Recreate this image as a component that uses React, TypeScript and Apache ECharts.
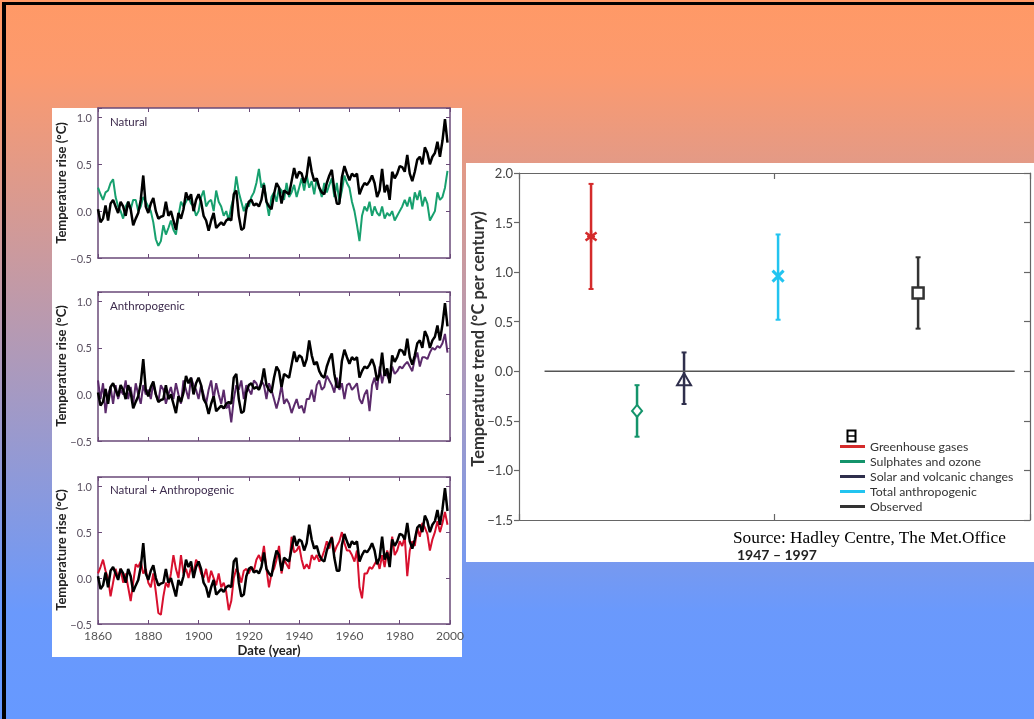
import React, { useEffect, useRef } from "react";
import * as echarts from "echarts";

const START_YEAR = 1860;
const yearTicks = [1860, 1880, 1900, 1920, 1940, 1960, 1980, 2000];

const observed = [
  0.02, -0.12, -0.08, 0.06, -0.1, 0.08, 0.12, 0.05, -0.02, 0.1,
  0.05, -0.05, 0.1, 0.02, -0.15, -0.08, -0.02, 0.12, 0.38, 0.05,
  -0.02, 0.08, 0.14, 0.0, -0.08, -0.06, -0.05, 0.1, -0.05, 0.0,
  -0.1, -0.2, -0.02, -0.08, 0.02, 0.2, 0.12, 0.18, 0.0, 0.12,
  0.18, 0.1, -0.05, -0.1, -0.21, -0.1, -0.02, -0.18, -0.15, -0.12,
  -0.15, -0.1, -0.08, -0.1, 0.18, 0.22, -0.05, -0.2, -0.18, 0.02,
  0.1, 0.12, 0.06, 0.08, 0.05, 0.12, 0.28, 0.1, 0.05, 0.02,
  0.18, 0.3, 0.25, 0.08, 0.22, 0.2, 0.18, 0.32, 0.46, 0.35,
  0.42, 0.4, 0.3, 0.38, 0.58, 0.42, 0.32, 0.35, 0.25, 0.2,
  0.18, 0.3, 0.38, 0.44, 0.22, 0.08, 0.08, 0.36, 0.48, 0.4,
  0.33, 0.4, 0.37, 0.4, 0.18, 0.25, 0.3, 0.28, 0.32, 0.38,
  0.3, 0.15, 0.22, 0.45, 0.2, 0.28, 0.12, 0.42, 0.35, 0.4,
  0.48, 0.47, 0.42, 0.6, 0.4, 0.32, 0.42, 0.55, 0.58, 0.5,
  0.68, 0.62, 0.5, 0.58, 0.62, 0.74, 0.58, 0.75, 0.98, 0.73,
];

const natural = [
  0.25, 0.18, 0.12, 0.2, 0.22, 0.3, 0.34, 0.15, 0.05, 0.0,
  -0.08, 0.05, 0.1, 0.02, 0.12, 0.12, 0.0, 0.05, 0.15, 0.1,
  0.05, 0.0, -0.12, -0.3, -0.37, -0.32, -0.15, -0.25, -0.18, -0.1,
  -0.2, -0.25, -0.05, 0.1, 0.05, 0.1, 0.15, 0.08, 0.05, -0.05,
  0.0, 0.15, 0.22, 0.05, 0.1, 0.12, 0.0, 0.22, 0.1, 0.05,
  -0.05, 0.0, -0.1, 0.05, 0.15, 0.37, 0.2, 0.1, 0.0, 0.08,
  0.05, 0.15, 0.2, 0.3, 0.45, 0.25, 0.3, 0.1, -0.05, 0.15,
  0.2, 0.1, 0.25, 0.22, 0.12, 0.3, 0.15, 0.2, 0.28, 0.15,
  0.25, 0.35, 0.22, 0.38, 0.25, 0.32, 0.18, 0.35, 0.25, 0.15,
  0.3, 0.2, 0.28, 0.35, 0.15, 0.3, 0.1, 0.22, 0.38, 0.3,
  0.25, 0.1, 0.0, -0.15, -0.32, -0.05, 0.05, 0.0, 0.1, -0.05,
  0.05, -0.02, -0.05, 0.05, -0.08, -0.02, -0.05, 0.0, -0.1, -0.05,
  0.0, 0.05, 0.12, 0.05, 0.15, 0.02, 0.2, 0.12, 0.22, 0.05,
  0.15, 0.08, -0.1, -0.05, 0.0, 0.2, 0.12, 0.15, 0.25, 0.43,
];

const anthropogenic = [
  0.15, -0.05, 0.12, -0.2, 0.0, 0.08, -0.1, 0.1, -0.05, 0.05,
  0.0, 0.15, -0.05, 0.08, -0.1, 0.12, 0.0, -0.1, 0.1, 0.0,
  0.05, -0.05, 0.12, 0.0, -0.08, 0.1, 0.05, -0.1, 0.0, 0.08,
  -0.05, 0.12, 0.0, -0.1, 0.15, 0.05, -0.05, 0.18, 0.1, 0.05,
  -0.05, 0.1, 0.0, -0.1, 0.05, 0.15, -0.05, 0.12, 0.0, -0.1,
  0.05, -0.15, -0.1, -0.3, -0.05, 0.1, 0.05, 0.15, -0.05, 0.1,
  0.05, 0.0, 0.15, 0.12, 0.05, 0.15, 0.1, -0.05, 0.12, 0.05,
  -0.05, -0.15, -0.05, 0.1, -0.1, -0.05, -0.1, -0.2, -0.12, -0.05,
  -0.15, -0.12, -0.2, -0.05, -0.05, 0.05, -0.08, 0.1, 0.15, 0.05,
  0.08, 0.2, 0.15, 0.1, 0.02, 0.18, 0.05, 0.12, -0.05, 0.1,
  0.12, 0.05, 0.08, 0.12, -0.05, -0.1, 0.0, 0.05, -0.18, 0.1,
  0.18, 0.05, 0.3, 0.12, 0.25, 0.2, 0.15, 0.3, 0.22, 0.25,
  0.3, 0.28, 0.32, 0.35, 0.3, 0.25, 0.38, 0.45, 0.3, 0.4,
  0.4, 0.38, 0.45, 0.5, 0.48, 0.52, 0.5, 0.55, 0.65, 0.45,
];

const combined = [
  0.05, 0.12, 0.2, 0.08, 0.0, -0.2, -0.05, 0.1, 0.0, 0.1,
  -0.05, 0.05, -0.1, -0.25, -0.05, 0.15, 0.12, 0.18, 0.05, 0.1,
  -0.05, -0.1, 0.05, -0.15, -0.38, -0.4, -0.2, -0.05, -0.1, 0.05,
  0.25, 0.1, 0.0, 0.25, 0.05, 0.1, 0.0, 0.12, 0.05, 0.2,
  0.15, 0.05, 0.0, 0.1, -0.05, 0.08, 0.0, -0.08, 0.05, -0.1,
  -0.05, -0.15, -0.35, -0.25, 0.0, 0.1, 0.05, -0.05, 0.08, 0.1,
  0.05, 0.12, 0.08, 0.2, 0.25, 0.18, 0.35, 0.1, -0.1, 0.05,
  0.1, 0.2, 0.35, 0.05, 0.2, 0.15, 0.1, 0.45, 0.28, 0.3,
  0.35, 0.2, 0.1, 0.15, 0.1, 0.25, 0.2, 0.25, 0.18, 0.22,
  0.3, 0.4, 0.32, 0.45, 0.28, 0.35, 0.4, 0.5, 0.38, 0.3,
  0.3, 0.25, 0.18, 0.3, -0.1, -0.22, 0.05, 0.05, 0.12, 0.1,
  0.15, 0.2, 0.1, 0.25, 0.12, 0.3, 0.2, 0.45, 0.25, 0.3,
  0.4, 0.35, 0.45, 0.02, 0.3, 0.4, 0.35, 0.55, 0.45, 0.6,
  0.55, 0.48, 0.3, 0.42, 0.5, 0.62, 0.5, 0.6, 0.72, 0.58,
];

const panelTitles = ["Natural", "Anthropogenic", "Natural + Anthropogenic"];

const trendNames = [
  "Greenhouse gases",
  "Sulphates and ozone",
  "Solar and volcanic changes",
  "Total anthropogenic",
  "Observed",
];
const trendSlot = [0.141, 0.231, 0.323, 0.507, 0.781];
const trendMid = [1.36, -0.4, -0.09, 0.96, 0.79];
const trendLow = [0.83, -0.66, -0.33, 0.52, 0.43];
const trendHigh = [1.89, -0.14, 0.19, 1.38, 1.15];

const trendColors = ["#d42b2b", "#14946b", "#2f2f4c", "#22c4f0", "#333333"];
const trendMarkers = ["asterisk", "diamond", "triangle", "cross", "square"];
const modelColors = ["#17a06e", "#5b2a6b", "#d8102e"];
const modelSeries = [natural, anthropogenic, combined];

const FONT = "Lato, 'Open Sans', sans-serif";
const FRAME = "#6a4a78";

const fmt = (v: number) => {
  const s = Math.abs(v).toFixed(1);
  return v < -1e-9 ? "\u2212" + s : s;
};

const toPairs = (arr: number[]) => arr.map((v, i) => [START_YEAR + i, v]);

function renderTrend(marker: string, color: string) {
  return (params: any, api: any) => {
    const x = api.value(0);
    const c = api.coord([x, api.value(1)]);
    const lo = api.coord([x, api.value(2)]);
    const hi = api.coord([x, api.value(3)]);
    const children: any[] = [
      { type: "line", shape: { x1: lo[0], y1: lo[1], x2: hi[0], y2: hi[1] }, style: { stroke: color, lineWidth: 2.5 } },
      { type: "line", shape: { x1: lo[0] - 2.5, y1: lo[1], x2: lo[0] + 2.5, y2: lo[1] }, style: { stroke: color, lineWidth: 2 } },
      { type: "line", shape: { x1: hi[0] - 2.5, y1: hi[1], x2: hi[0] + 2.5, y2: hi[1] }, style: { stroke: color, lineWidth: 2 } },
    ];
    const cx = c[0];
    const cy = c[1];
    if (marker === "asterisk") {
      children.push(
        { type: "line", shape: { x1: cx, y1: cy - 6, x2: cx, y2: cy + 6 }, style: { stroke: color, lineWidth: 2.5 } },
        { type: "line", shape: { x1: cx - 5.5, y1: cy - 4, x2: cx + 5.5, y2: cy + 4 }, style: { stroke: color, lineWidth: 2.5 } },
        { type: "line", shape: { x1: cx - 5.5, y1: cy + 4, x2: cx + 5.5, y2: cy - 4 }, style: { stroke: color, lineWidth: 2.5 } },
        { type: "line", shape: { x1: cx - 4, y1: cy, x2: cx + 4, y2: cy }, style: { stroke: color, lineWidth: 2 } }
      );
    } else if (marker === "diamond") {
      children.push({
        type: "polygon",
        shape: { points: [[cx, cy - 6], [cx + 5, cy], [cx, cy + 6], [cx - 5, cy]] },
        style: { fill: "#ffffff", stroke: color, lineWidth: 2 },
      });
    } else if (marker === "triangle") {
      children.push({
        type: "polygon",
        shape: { points: [[cx, cy - 7], [cx + 7, cy + 5], [cx - 7, cy + 5]] },
        style: { fill: "none", stroke: color, lineWidth: 2 },
      });
    } else if (marker === "cross") {
      children.push(
        { type: "line", shape: { x1: cx - 5.5, y1: cy - 5.5, x2: cx + 5.5, y2: cy + 5.5 }, style: { stroke: color, lineWidth: 3 } },
        { type: "line", shape: { x1: cx - 5.5, y1: cy + 5.5, x2: cx + 5.5, y2: cy - 5.5 }, style: { stroke: color, lineWidth: 3 } }
      );
    } else {
      children.push({
        type: "rect",
        shape: { x: cx - 5.5, y: cy - 5.5, width: 11, height: 11 },
        style: { fill: "#ffffff", stroke: color, lineWidth: 2.5 },
      });
    }
    return { type: "group", children };
  };
}

export default function App() {
  const ref = useRef<HTMLDivElement>(null);

  useEffect(() => {
    if (!ref.current) return;
    const chart = echarts.init(ref.current, undefined, { renderer: "svg" });

    const leftGrids = [
      { left: 98, top: 108, width: 352, height: 150 },
      { left: 98, top: 292, width: 352, height: 149 },
      { left: 98, top: 477, width: 352, height: 147 },
    ];
    const rightGrid = { left: 519, top: 173, width: 511, height: 347 };

    const xAxes: any[] = [];
    const yAxes: any[] = [];
    leftGrids.forEach((g, i) => {
      const common = {
        type: "value",
        gridIndex: i,
        min: yearTicks[0],
        max: yearTicks[yearTicks.length - 1],
        interval: 20,
        splitLine: { show: false },
        axisLine: { show: true, onZero: false, lineStyle: { color: FRAME, width: 1.5 } },
        axisTick: { show: true, inside: true, length: 4, lineStyle: { color: FRAME } },
      };
      xAxes.push({
        ...common,
        position: "bottom",
        axisLabel: {
          show: i === 2,
          color: "#555",
          fontSize: 12,
          fontFamily: FONT,
          margin: 5,
          formatter: (v: number) => String(v),
        },
      });
      xAxes.push({ ...common, position: "top", axisLabel: { show: false } });
      const ycommon = {
        type: "value",
        gridIndex: i,
        min: -0.5,
        max: 1.1,
        interval: 0.5,
        splitLine: { show: false },
        axisLine: { show: true, onZero: false, lineStyle: { color: FRAME, width: 1.5 } },
        axisTick: { show: true, inside: true, length: 4, lineStyle: { color: FRAME } },
      };
      yAxes.push({
        ...ycommon,
        position: "left",
        axisLabel: {
          color: "#5a5060",
          fontSize: 11,
          fontFamily: FONT,
          margin: 6,
          formatter: (v: number) => (Math.abs(v * 2 - Math.round(v * 2)) < 1e-6 ? fmt(v) : ""),
        },
      });
      yAxes.push({ ...ycommon, position: "right", axisLabel: { show: false } });
    });

    const rx = {
      type: "value",
      gridIndex: 3,
      min: 0,
      max: 1,
      interval: 0.5,
      splitLine: { show: false },
      axisLine: { show: true, onZero: false, lineStyle: { color: "#666", width: 1.2 } },
      axisTick: { show: true, inside: true, length: 6, lineStyle: { color: "#666", width: 1.2 } },
      axisLabel: { show: false },
    };
    xAxes.push({ ...rx, position: "bottom" });
    xAxes.push({ ...rx, position: "top" });
    const ry = {
      type: "value",
      gridIndex: 3,
      min: -1.5,
      max: 2.0,
      interval: 0.5,
      splitLine: { show: false },
      axisLine: { show: true, onZero: false, lineStyle: { color: "#666", width: 1.2 } },
    };
    yAxes.push({
      ...ry,
      position: "left",
      axisTick: { show: true, inside: false, length: 5, lineStyle: { color: "#666", width: 1.2 } },
      axisLabel: { color: "#444", fontSize: 13, fontFamily: FONT, margin: 6, formatter: (v: number) => fmt(v) },
    });
    yAxes.push({
      ...ry,
      position: "right",
      axisTick: { show: true, inside: true, length: 6, lineStyle: { color: "#666", width: 1.2 } },
      axisLabel: { show: false },
    });

    const series: any[] = [];
    modelSeries.forEach((arr, i) => {
      series.push({
        type: "line",
        name: panelTitles[i],
        xAxisIndex: i * 2,
        yAxisIndex: i * 2,
        data: toPairs(arr),
        showSymbol: false,
        symbol: "none",
        lineStyle: { color: modelColors[i], width: 2 },
        silent: true,
      });
      series.push({
        type: "line",
        name: "Observed " + i,
        xAxisIndex: i * 2,
        yAxisIndex: i * 2,
        data: toPairs(observed),
        showSymbol: false,
        symbol: "none",
        lineStyle: { color: "#000000", width: 2.5 },
        silent: true,
      });
    });

    series.push({
      type: "line",
      name: "zero",
      xAxisIndex: 6,
      yAxisIndex: 6,
      data: [
        [0.05, 0],
        [0.97, 0],
      ],
      symbol: "none",
      lineStyle: { color: "#555", width: 1.5 },
      silent: true,
    });

    trendNames.forEach((name, i) => {
      series.push({
        type: "custom",
        name,
        xAxisIndex: 6,
        yAxisIndex: 6,
        itemStyle: { color: trendColors[i] },
        encode: { x: 0, y: [1, 2, 3] },
        data: [[trendSlot[i], trendMid[i], trendLow[i], trendHigh[i]]],
        renderItem: renderTrend(trendMarkers[i], trendColors[i]),
        silent: true,
      });
    });

    const graphics: any[] = [
      {
        type: "rect",
        z: -100,
        shape: { x: 0, y: 0, width: 1034, height: 719 },
        style: {
          fill: {
            type: "linear",
            x: 0,
            y: 0,
            x2: 0,
            y2: 1,
            colorStops: [
              { offset: 0, color: "#ff9966" },
              { offset: 0.1, color: "#fc9a6e" },
              { offset: 0.85, color: "#6a99fc" },
              { offset: 1, color: "#6699ff" },
            ],
          },
        },
      },
      { type: "rect", z: -90, shape: { x: 2, y: 2, width: 1032, height: 3 }, style: { fill: "#000" } },
      { type: "rect", z: -90, shape: { x: 2, y: 2, width: 4, height: 717 }, style: { fill: "#000" } },
      { type: "rect", z: -80, shape: { x: 52, y: 108, width: 410, height: 549 }, style: { fill: "#fff" } },
      { type: "rect", z: -80, shape: { x: 466, y: 163, width: 568, height: 399 }, style: { fill: "#fff" } },
    ];

    const titleY = [121, 305, 489];
    const nameY = [183, 366, 550];
    panelTitles.forEach((t, i) => {
      graphics.push({
        type: "text",
        x: 110,
        y: titleY[i],
        style: {
          text: t,
          fill: "#3c2a4c",
          font: `11.5px ${FONT}`,
          textAlign: "left",
          align: "left",
          textVerticalAlign: "middle",
          verticalAlign: "middle",
        },
      });
      graphics.push({
        type: "text",
        x: 61,
        y: nameY[i],
        rotation: Math.PI / 2,
        style: {
          text: "Temperature rise (\u00b0C)",
          fill: "#222",
          font: `bold 13px ${FONT}`,
          textAlign: "center",
          align: "center",
          textVerticalAlign: "middle",
          verticalAlign: "middle",
        },
      });
    });

    graphics.push(
      {
        type: "text",
        x: 269,
        y: 650,
        style: {
          text: "Date (year)",
          fill: "#222",
          font: `bold 13px ${FONT}`,
          textAlign: "center",
          align: "center",
          textVerticalAlign: "middle",
          verticalAlign: "middle",
        },
      },
      {
        type: "text",
        x: 478,
        y: 339,
        rotation: Math.PI / 2,
        style: {
          text: "Temperature trend (\u00b0C per century)",
          fill: "#333",
          font: `bold 16.5px ${FONT}`,
          textAlign: "center",
          align: "center",
          textVerticalAlign: "middle",
          verticalAlign: "middle",
        },
      },
      {
        type: "text",
        x: 733,
        y: 537,
        style: {
          text: "Source: Hadley Centre, The Met.Office",
          fill: "#000",
          font: `17.3px 'Liberation Serif', 'DejaVu Serif', serif`,
          textAlign: "left",
          align: "left",
          textVerticalAlign: "middle",
          verticalAlign: "middle",
        },
      },
      {
        type: "text",
        x: 737,
        y: 554,
        style: {
          text: "1947 \u2013 1997",
          fill: "#222",
          font: `bold 14px ${FONT}`,
          textAlign: "left",
          align: "left",
          textVerticalAlign: "middle",
          verticalAlign: "middle",
        },
      },
      {
        type: "rect",
        shape: { x: 847.5, y: 430.5, width: 8, height: 11 },
        style: { fill: "none", stroke: "#000", lineWidth: 2 },
      },
      {
        type: "line",
        shape: { x1: 847, y1: 436, x2: 856, y2: 436 },
        style: { stroke: "#000", lineWidth: 1.5 },
      }
    );

    chart.setOption({
      animation: false,
      grid: [...leftGrids, rightGrid],
      xAxis: xAxes,
      yAxis: yAxes,
      legend: {
        data: trendNames,
        orient: "vertical",
        left: 840,
        top: 440,
        icon: "rect",
        itemWidth: 25,
        itemHeight: 3,
        itemGap: 2,
        selectedMode: false,
        padding: 0,
        textStyle: { fontSize: 12.3, fontFamily: FONT, color: "#333", lineHeight: 13 },
      },
      graphic: graphics,
      series,
    });

    return () => chart.dispose();
  }, []);

  return (
    <div
      ref={ref}
      style={{ position: "fixed", left: 0, top: 0, width: 1034, height: 719 }}
    />
  );
}
